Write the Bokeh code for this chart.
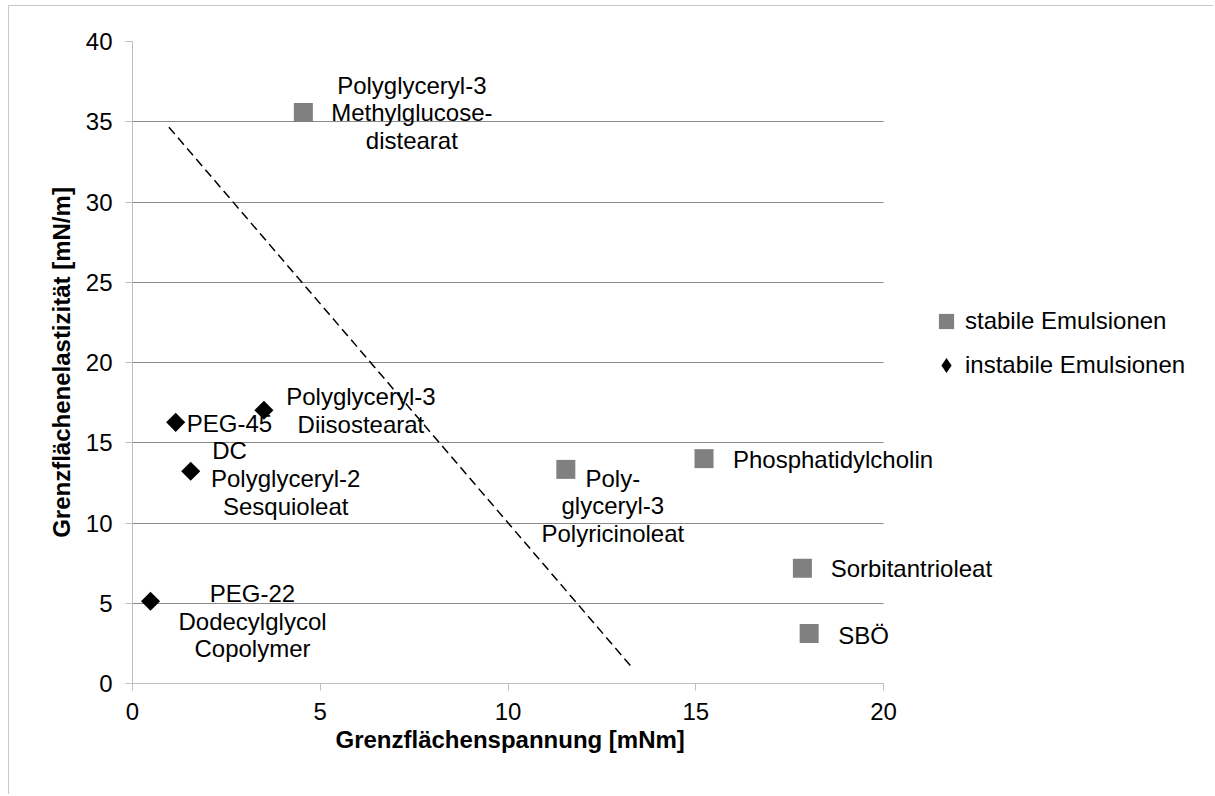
import math
from bokeh.plotting import figure
from bokeh.models import (ColumnDataSource, Legend, LegendItem, FixedTicker, Range1d, Title)
from bokeh.core.properties import value
from bokeh.embed import file_html
from bokeh.resources import INLINE

# ---- data ----
stable_x = [4.55, 11.54, 15.22, 17.84, 18.02]
stable_y = [35.57, 13.34, 14.01, 7.18, 3.11]
stable_labels = ["Polyglyceryl-3\nMethylglucose-\ndistearat",
                 "Poly-\nglyceryl-3\nPolyricinoleat",
                 "Phosphatidylcholin",
                 "Sorbitantrioleat",
                 "SBÖ"]

unstable_x = [1.15, 3.50, 1.55, 0.48]
unstable_y = [16.27, 17.02, 13.22, 5.12]
unstable_labels = ["PEG-45\nDC",
                   "Polyglyceryl-3\nDiisostearat",
                   "Polyglyceryl-2\nSesquioleat",
                   "PEG-22\nDodecylglycol\nCopolymer"]

trend_x = [0.97, 13.32]
trend_y = [34.66, 0.95]

x_ticks = [0, 5, 10, 15, 20]
y_ticks = [0, 5, 10, 15, 20, 25, 30, 35, 40]
series_names = ["stabile Emulsionen", "instabile Emulsionen"]
x_title = "Grenzflächenspannung [mNm]"
y_title = "Grenzflächenelastizität [mN/m]"

# ---- label placement (pixel offsets of label centres from their points) ----
stable_dx = [108.5, 47, 129, 109, 54.4]
stable_dy = [0, 36.5, 1, 0, 2]
unstable_dx = [53.8, 97, 95, 102]
unstable_dy = [14.5, 0, 21, 20]

FONT = "Liberation Sans"
FS = "24px"

# ---- layout: the axes cover 0..20 over 751 px; the frame is widened so that
# labels and legend on the right are not clipped ----
FIG_W, FIG_H = 1205, 789
B_LEFT, B_TOP, B_RIGHT = 123, 35, 5
AXIS_PX_W, FRAME_H = 751, 642
FRAME_W = FIG_W - B_LEFT - B_RIGHT
x_end = x_ticks[-1] * FRAME_W / AXIS_PX_W

p = figure(width=FIG_W, height=FIG_H,
           x_range=Range1d(x_ticks[0], x_end),
           y_range=Range1d(y_ticks[0], y_ticks[-1]),
           output_backend="svg", toolbar_location=None,
           min_border_left=B_LEFT, min_border_right=B_RIGHT,
           min_border_top=B_TOP, min_border_bottom=FIG_H - B_TOP - FRAME_H)
p.margin = (5, 0, 0, 8)
p.styles = {"border-left": "1px solid #c8c8c8", "border-top": "1px solid #c8c8c8"}
p.outline_line_color = None
p.background_fill_color = "white"
p.border_fill_color = "white"

# axes
p.xaxis.ticker = FixedTicker(ticks=x_ticks)
p.yaxis.ticker = FixedTicker(ticks=y_ticks)
p.xaxis.bounds = (x_ticks[0], x_ticks[-1])
for ax in (p.xaxis[0], p.yaxis[0]):
    ax.axis_line_color = "#bfbfbf"
    ax.major_tick_line_color = "#bfbfbf"
    ax.major_tick_out = 7
    ax.major_tick_in = 0
    ax.minor_tick_line_color = None
    ax.major_label_text_font = FONT
    ax.major_label_text_font_size = FS
    ax.major_label_text_color = "black"
    ax.axis_label_text_font = FONT
    ax.axis_label_text_font_size = FS
    ax.axis_label_text_font_style = "bold"
    ax.axis_label_text_color = "black"
p.yaxis.axis_label = y_title
p.xaxis.major_label_standoff = 12
p.yaxis.major_label_standoff = 13
p.yaxis.axis_label_standoff = 8

# x-axis title, centred under the 0..20 part of the axis
xt = Title(text=x_title, align="left", offset=203, standoff=2,
           text_font=FONT, text_font_size=FS, text_font_style="bold",
           text_color="black")
p.add_layout(xt, "below")

p.xgrid.visible = False
p.ygrid.ticker = FixedTicker(ticks=y_ticks[1:])
p.ygrid.grid_line_color = "#898989"
p.ygrid.grid_line_width = 1
try:
    p.ygrid.cross_bounds = (x_ticks[0], x_ticks[-1])
except Exception:
    p.ygrid.visible = False
    p.segment(x0=[x_ticks[0]] * (len(y_ticks) - 1), x1=[x_ticks[-1]] * (len(y_ticks) - 1),
              y0=y_ticks[1:], y1=y_ticks[1:], line_color="#898989", line_width=1)

# dashed separating line
p.line(trend_x, trend_y, line_color="black", line_width=1.5, line_dash="9 5")

# points
src_s = ColumnDataSource(dict(x=stable_x, y=stable_y, label=stable_labels,
                              dx=stable_dx, dy=stable_dy))
src_u = ColumnDataSource(dict(x=unstable_x, y=unstable_y, label=unstable_labels,
                              dx=unstable_dx, dy=unstable_dy))
r_s = p.scatter("x", "y", source=src_s, marker="square", size=19,
                fill_color="#808080", line_color=None)
r_u = p.scatter("x", "y", source=src_u, marker="square", size=13.5, angle=math.pi / 4,
                fill_color="black", line_color=None)

# data labels
for src in (src_s, src_u):
    p.text("x", "y", text="label", source=src, x_offset="dx", y_offset="dy",
           text_align="center", text_baseline="middle",
           text_font=value(FONT), text_font_size=value(FS),
           text_line_height=1.02, text_color="black")

# legend (hidden diamond renderer of the same data supplies the legend symbol)
proxy_u = p.scatter("x", "y", source=src_u, marker="diamond", size=19,
                    fill_color="black", line_color=None, visible=False)
legend = Legend(items=[LegendItem(label=series_names[0], renderers=[r_s]),
                       LegendItem(label=series_names[1], renderers=[proxy_u])],
                location=(795, 299), orientation="vertical",
                glyph_width=38, glyph_height=38, label_standoff=0, spacing=6,
                padding=0, margin=0, border_line_color=None,
                background_fill_alpha=0, inactive_fill_alpha=0,
                label_text_font=FONT, label_text_font_size=FS,
                label_text_color="black")
p.add_layout(legend)

open("out.html", "w").write(file_html(p, INLINE))
